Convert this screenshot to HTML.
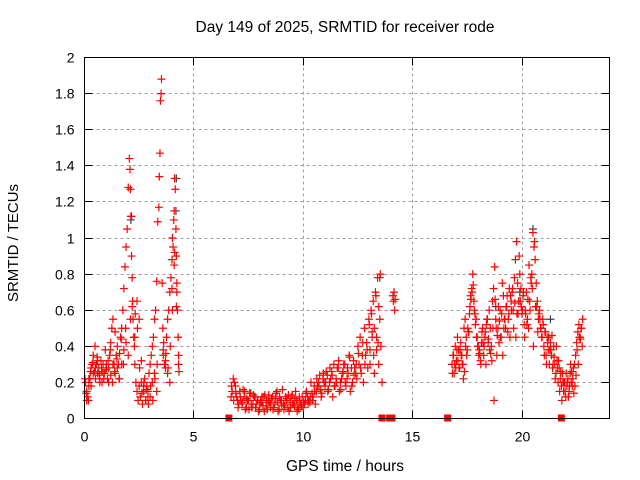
<!DOCTYPE html>
<html><head><meta charset="utf-8"><style>
html,body{margin:0;padding:0;background:#fff}
svg{display:block;font-family:"Liberation Sans",sans-serif}
</style></head><body>
<svg id="chart" width="640" height="480">
<rect width="640" height="480" fill="#fff"/>
<text x="345" y="32" font-size="15.5" text-anchor="middle">Day 149 of 2025, SRMTID for receiver rode</text>
<text x="345" y="471" font-size="15.5" text-anchor="middle">GPS time / hours</text>
<text transform="translate(18,243) rotate(-90)" font-size="15" text-anchor="middle">SRMTID / TECUs</text>
<g id="grid"></g><g id="ticks"></g><g id="marks"></g>
<rect x="84.5" y="57.5" width="525" height="361" fill="none" stroke="#000" stroke-width="1"/>
</svg>
<script>
const xTicks=[0,5,10,15,20];
const yTicks=[0,0.2,0.4,0.6,0.8,1,1.2,1.4,1.6,1.8,2];
const yTickLabels=["0","0.2","0.4","0.6","0.8","1","1.2","1.4","1.6","1.8","2"];
const hours=[0.05,0.1,0.15,0.2,0.25,0.3,0.35,0.4,0.45,0.5,0.55,0.6,0.65,0.7,0.75,0.8,0.85,0.9,0.95,1.0,1.05,1.1,1.15,1.2,1.25,1.3,1.35,1.4,1.45,1.5,1.55,1.6,1.65,1.7,1.75,1.8,1.85,1.9,1.95,2.0,2.05,2.08,2.1,2.12,2.15,2.18,2.2,2.22,2.25,2.28,2.3,2.35,2.4,2.45,2.5,2.55,2.6,2.65,2.7,2.75,2.8,2.85,2.9,2.95,3.0,3.05,3.1,3.15,3.2,3.25,3.3,3.35,3.4,3.42,3.45,3.47,3.5,3.52,3.55,3.58,3.6,3.65,3.7,3.75,3.8,3.85,3.9,3.95,4.0,4.02,4.05,4.08,4.1,4.12,4.15,4.18,4.2,4.22,4.25,4.28,4.3,
0.1,0.2,0.3,0.4,0.5,0.6,0.7,0.8,0.9,1.0,1.1,1.2,1.3,1.4,1.5,1.6,1.7,1.8,1.9,2.0,2.1,2.3,2.4,2.5,2.6,2.7,2.8,2.9,3.0,3.1,3.2,3.3,3.6,3.7,3.8,3.9,4.0,4.1,4.2,4.3,
0.02,0.08,0.18,0.28,0.38,0.48,0.58,0.68,0.78,0.88,0.98,1.08,1.18,1.28,1.38,1.48,1.58,1.68,1.78,1.88,2.18,2.32,2.42,2.52,2.62,2.72,2.82,2.92,3.02,3.12,3.22,3.32,3.62,3.72,3.82,3.92,4.02,4.12,4.22,4.32,
6.7,6.8,6.9,7.0,7.1,7.2,7.3,7.4,7.5,7.6,7.7,7.8,7.9,8.0,8.1,8.2,8.3,8.4,8.5,8.6,8.7,8.8,8.9,9.0,9.1,9.2,9.3,9.4,9.5,9.6,9.7,9.8,9.9,10.0,10.1,10.2,10.3,10.4,10.5,10.6,10.7,10.8,10.9,11.0,11.1,11.2,11.3,11.4,11.5,11.6,11.7,11.8,11.9,12.0,12.1,12.2,12.3,12.4,12.5,12.6,12.7,12.8,12.9,13.0,13.05,13.1,13.15,13.2,13.25,13.3,13.35,13.4,13.45,13.5,13.55,13.6,
6.75,6.85,6.95,7.05,7.15,7.25,7.35,7.45,7.55,7.65,7.75,7.85,7.95,8.05,8.15,8.25,8.35,8.45,8.55,8.65,8.75,8.85,8.95,9.05,9.15,9.25,9.35,9.45,9.55,9.65,9.75,9.85,9.95,10.05,10.15,10.25,10.35,10.45,10.55,10.65,10.75,10.85,10.95,11.05,11.15,11.25,11.35,11.45,11.55,11.65,11.75,11.85,11.95,12.05,12.15,12.25,12.35,12.45,12.55,12.65,12.75,12.85,12.95,13.05,13.15,13.25,13.35,13.45,
6.72,6.82,6.92,7.02,7.12,7.22,7.32,7.42,7.52,7.62,7.72,7.82,7.92,8.02,8.12,8.22,8.32,8.42,8.52,8.62,8.72,8.82,8.92,9.02,9.12,9.22,9.32,9.42,9.52,9.62,9.72,9.82,9.92,10.02,10.12,10.22,10.32,10.42,10.52,10.62,10.72,10.82,10.92,11.02,11.12,11.22,11.32,11.42,11.52,11.62,11.72,11.82,11.92,12.02,12.12,12.22,12.32,12.42,12.52,12.62,12.72,12.82,12.92,13.02,13.12,13.22,13.32,13.42,13.52,
14.1,14.12,14.15,14.18,14.2,
16.8,16.85,16.9,16.95,17.0,17.05,17.1,17.15,17.2,17.25,17.3,17.35,17.4,17.45,17.5,17.55,17.6,17.65,17.7,17.75,17.8,17.85,17.9,17.95,18.0,18.05,18.1,18.15,18.2,18.25,18.3,18.35,18.4,18.45,18.5,18.55,18.6,18.65,18.7,18.75,18.8,18.85,18.9,18.95,19.0,19.05,19.1,19.15,19.2,19.25,19.3,19.35,19.4,19.45,19.5,19.55,19.6,19.65,19.7,19.75,19.8,19.85,19.9,19.95,20.0,20.05,20.1,20.15,20.2,20.25,20.3,20.35,20.4,20.45,20.5,20.55,20.6,20.65,20.7,20.75,20.8,20.85,20.9,20.95,21.0,21.05,21.1,21.15,21.2,21.25,21.3,21.35,21.4,21.45,21.5,21.55,21.6,21.65,21.7,21.75,21.8,21.85,21.9,21.95,22.0,22.05,22.1,22.15,22.2,22.25,22.3,22.35,22.4,22.45,22.5,22.55,22.6,22.65,22.7,22.75,
16.82,16.92,17.02,17.12,17.22,17.32,17.42,17.52,17.62,17.72,17.82,17.92,18.02,18.12,18.22,18.32,18.42,18.52,18.62,18.72,18.82,18.92,19.02,19.12,19.22,19.32,19.42,19.52,19.62,19.72,19.82,19.92,20.02,20.12,20.22,20.32,20.42,20.52,20.62,20.72,20.82,20.92,21.02,21.12,21.22,21.32,21.42,21.52,21.62,21.72,21.82,21.92,22.02,22.12,22.22,22.32,22.42,22.52,22.62,22.72,
16.87,16.97,17.07,17.17,17.27,17.37,17.47,17.57,17.67,17.77,17.87,17.97,18.07,18.17,18.27,18.37,18.47,18.57,18.67,18.77,18.87,18.97,19.07,19.17,19.27,19.37,19.47,19.57,19.67,19.77,19.87,19.97,20.07,20.17,20.27,20.37,20.47,20.57,20.67,20.77,20.87,20.97,21.07,21.17,21.27,21.37,21.47,21.57,21.67,21.77,21.87,21.97,22.07,22.17,22.27,22.37,22.47,22.57,22.67,22.77];
const srmtid=[0.2,0.15,0.12,0.18,0.22,0.28,0.3,0.35,0.26,0.22,0.3,0.25,0.28,0.2,0.32,0.26,0.3,0.25,0.38,0.3,0.22,0.28,0.35,0.42,0.5,0.55,0.3,0.48,0.35,0.4,0.3,0.36,0.45,0.5,0.6,0.72,0.84,0.95,1.05,1.28,1.44,1.38,1.27,1.12,0.9,0.78,0.65,0.55,0.45,0.4,0.3,0.2,0.15,0.1,0.18,0.12,0.2,0.08,0.15,0.22,0.1,0.18,0.12,0.25,0.3,0.35,0.4,0.45,0.55,0.6,0.76,1.09,1.17,1.34,1.47,1.76,1.8,1.88,0.75,0.5,0.35,0.3,0.28,0.45,0.55,0.6,0.7,0.78,0.88,1.0,0.95,1.1,1.15,1.33,1.27,1.05,0.9,0.75,0.6,0.45,0.3,
0.1,0.22,0.18,0.25,0.28,0.32,0.22,0.2,0.25,0.28,0.2,0.24,0.3,0.25,0.28,0.22,0.3,0.38,0.42,0.35,0.55,0.45,0.65,0.55,0.32,0.18,0.1,0.15,0.12,0.2,0.25,0.15,0.38,0.32,0.25,0.2,0.72,0.85,0.62,0.35,
0.22,0.14,0.1,0.26,0.31,0.4,0.34,0.24,0.28,0.22,0.27,0.32,0.38,0.2,0.26,0.33,0.22,0.44,0.3,0.5,0.62,0.58,0.5,0.28,0.14,0.2,0.16,0.08,0.18,0.1,0.22,0.3,0.42,0.36,0.28,0.4,0.6,0.92,0.7,0.26,
0.12,0.22,0.18,0.1,0.15,0.08,0.12,0.06,0.1,0.14,0.08,0.12,0.1,0.05,0.09,0.12,0.07,0.1,0.06,0.12,0.08,0.15,0.05,0.1,0.08,0.12,0.06,0.09,0.13,0.07,0.1,0.05,0.08,0.06,0.1,0.12,0.09,0.14,0.18,0.15,0.2,0.16,0.22,0.18,0.24,0.2,0.26,0.3,0.22,0.28,0.2,0.25,0.3,0.22,0.35,0.28,0.32,0.25,0.4,0.45,0.35,0.5,0.42,0.55,0.38,0.6,0.48,0.65,0.5,0.7,0.45,0.78,0.62,0.55,0.4,0.2,
0.15,0.2,0.12,0.08,0.1,0.16,0.05,0.1,0.14,0.06,0.12,0.08,0.04,0.1,0.07,0.13,0.05,0.09,0.11,0.06,0.14,0.04,0.1,0.16,0.07,0.11,0.04,0.12,0.08,0.15,0.06,0.09,0.12,0.08,0.15,0.1,0.2,0.12,0.08,0.18,0.24,0.14,0.2,0.26,0.16,0.22,0.12,0.18,0.28,0.15,0.22,0.3,0.18,0.25,0.15,0.2,0.28,0.22,0.3,0.25,0.2,0.35,0.28,0.3,0.45,0.25,0.38,0.3,
0.18,0.1,0.14,0.06,0.12,0.09,0.15,0.11,0.05,0.08,0.13,0.06,0.1,0.08,0.12,0.04,0.1,0.13,0.08,0.05,0.11,0.09,0.12,0.07,0.05,0.1,0.13,0.06,0.08,0.11,0.04,0.12,0.07,0.09,0.14,0.08,0.12,0.1,0.15,0.22,0.18,0.12,0.25,0.2,0.15,0.28,0.24,0.18,0.2,0.32,0.16,0.26,0.2,0.28,0.34,0.18,0.24,0.3,0.36,0.28,0.42,0.3,0.38,0.52,0.58,0.35,0.68,0.42,0.8,
0.68,0.65,0.7,0.6,0.66,
0.3,0.35,0.25,0.4,0.32,0.45,0.38,0.28,0.42,0.35,0.3,0.5,0.55,0.45,0.38,0.48,0.58,0.68,0.72,0.8,0.65,0.58,0.55,0.45,0.4,0.38,0.32,0.42,0.5,0.35,0.45,0.3,0.55,0.42,0.6,0.5,0.4,0.65,0.72,0.84,0.55,0.35,0.5,0.42,0.6,0.45,0.75,0.68,0.55,0.5,0.62,0.48,0.58,0.45,0.65,0.7,0.6,0.78,0.88,0.98,0.75,0.65,0.8,0.72,0.58,0.68,0.52,0.6,0.7,0.55,0.5,0.65,0.78,0.8,1.03,0.95,0.88,0.75,0.65,0.55,0.6,0.5,0.45,0.55,0.4,0.48,0.35,0.45,0.38,0.3,0.42,0.35,0.28,0.4,0.3,0.25,0.32,0.2,0.28,0.22,0.18,0.25,0.15,0.2,0.12,0.18,0.22,0.15,0.25,0.2,0.18,0.28,0.3,0.35,0.42,0.48,0.52,0.45,0.5,0.4,
0.25,0.3,0.38,0.28,0.35,0.22,0.4,0.5,0.62,0.7,0.6,0.45,0.35,0.3,0.42,0.48,0.55,0.38,0.32,0.1,0.5,0.62,0.45,0.35,0.55,0.68,0.72,0.6,0.5,0.45,0.58,0.65,0.6,0.45,0.52,0.85,0.75,0.4,0.62,0.48,0.55,0.45,0.35,0.3,0.45,0.38,0.3,0.22,0.28,0.15,0.1,0.2,0.25,0.12,0.3,0.22,0.18,0.38,0.45,0.5,
0.35,0.28,0.32,0.38,0.3,0.26,0.35,0.48,0.66,0.74,0.52,0.4,0.36,0.48,0.4,0.52,0.44,0.36,0.5,0.66,0.46,0.54,0.58,0.5,0.62,0.55,0.68,0.72,0.64,0.58,0.9,0.62,0.7,0.58,0.66,0.6,0.72,0.98,0.62,0.58,0.5,0.52,0.48,0.42,0.38,0.46,0.34,0.4,0.32,0.26,0.2,0.15,0.2,0.18,0.26,0.14,0.24,0.3,0.44,0.55];
const grayHours=[2.15,2.12,4.2,4.18,13.5,20.5,19.9,18.8,21.3];
const grayValues=[1.12,1.1,1.33,1.15,0.78,1.05,0.7,0.62,0.55];
const gapHours=[6.6,13.6,13.95,14.05,16.6,21.8];

const X0=84.5,X1=609.5,Y0=418.5,Y1=57.5;
const xs=h=>X0+h/24*(X1-X0);
const ys=v=>Y0-v/2*(Y0-Y1);
const NS="http://www.w3.org/2000/svg";
function mk(tag,attrs,parent){const e=document.createElementNS(NS,tag);for(const k in attrs)e.setAttribute(k,attrs[k]);parent.appendChild(e);return e;}
const grid=document.getElementById('grid'),ticks=document.getElementById('ticks'),marks=document.getElementById('marks');
yTicks.forEach((v,i)=>{const y=Math.round(ys(v)-0.5)+0.5;
 if(i>0&&i<yTicks.length-1){const g=mk('line',{x1:X0,x2:X1,y1:y,y2:y,stroke:'#a0a0a0','stroke-dasharray':'3,3'},grid);
 
 }
 const t=mk('line',{x1:X0,x2:X0+8,y1:y,y2:y,stroke:'#000'},ticks);
 
 
 const t2=mk('line',{x1:X1-8,x2:X1,y1:y,y2:y,stroke:'#000'},ticks);
 
 
 const l=mk('text',{x:X0-10,y:y+5,'font-size':14,'text-anchor':'end'},ticks);l.textContent=yTickLabels[i];
 
 });
xTicks.forEach(h=>{const x=Math.round(xs(h)-0.5)+0.5;
 if(h>0){const g=mk('line',{x1:x,x2:x,y1:Y0,y2:Y1,stroke:'#a0a0a0','stroke-dasharray':'3,3'},grid);
 
 }
 const t=mk('line',{x1:x,x2:x,y1:Y0,y2:Y0-8,stroke:'#000'},ticks);
 
 
 const t2=mk('line',{x1:x,x2:x,y1:Y1,y2:Y1+8,stroke:'#000'},ticks);
 
 
 const l=mk('text',{x:x,y:Y0+23,'font-size':14,'text-anchor':'middle'},ticks);l.textContent=String(h);
 
 });
function plus(h,v,col,name){const x=xs(h),y=ys(v);
 const p=mk('path',{d:`M${x-4},${y}H${x+4}M${x},${y-4}V${y+4}`,stroke:col,'stroke-width':1.2,fill:'none'},marks);
 
 }
grayHours.forEach((h,i)=>plus(h,grayValues[i],'#404040','gray-point'));
hours.forEach((h,i)=>plus(h,srmtid[i],'#ff0000','srmtid-point'));
gapHours.forEach(h=>{const r=mk('rect',{x:xs(h)-3.5,y:Y0-4,width:7,height:7,fill:'#ff0000'},marks);
 
 });
</script>
</body></html>
